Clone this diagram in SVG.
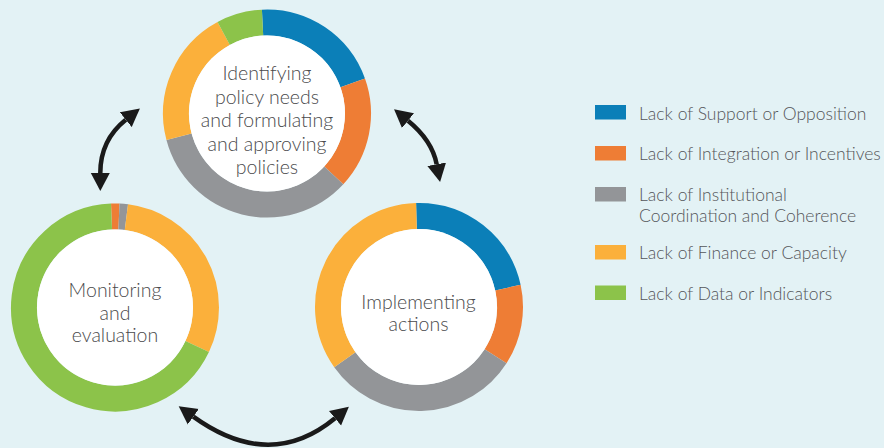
<svg xmlns="http://www.w3.org/2000/svg" width="884" height="448" viewBox="0 0 884 448">
  <defs>
    <style>
      .seg { fill: none; stroke-width: 26; }
      .blue { stroke: #0b7fb8; }
      .orange { stroke: #ee7d35; }
      .gray { stroke: #939598; }
      .yellow { stroke: #fbb03b; }
      .green { stroke: #8cc34a; }
      .hole { fill: #ffffff; }
      .label { font-family: Lato, "Liberation Sans", sans-serif; font-weight: 300; font-size: 19.5px; fill: #4a4a4c; text-anchor: middle; }
      .key { font-family: Lato, "Liberation Sans", sans-serif; font-weight: 300; font-size: 17.5px; fill: #55565a; }
      .link { fill: none; stroke: #1a1a1a; stroke-width: 4.5; }
    </style>
    <marker id="head" viewBox="0 -10 18 20" refX="0" refY="0" markerWidth="18" markerHeight="20" markerUnits="userSpaceOnUse" orient="auto-start-reverse">
      <path d="M0,-9.5 L18,0 L0,9.5 Z" fill="#1a1a1a"/>
    </marker>
  </defs>

  <rect x="0" y="0" width="884" height="448" fill="#e3f2f5"/>

  <!-- Stage 1: policy formulation -->
  <g id="node-identifying">
    <path class="seg blue" d="M262.56,22.61 A91,91 0 0 1 352.73,82.97"/>
    <path class="seg orange" d="M352.73,82.97 A91,91 0 0 1 333.77,175.33"/>
    <path class="seg gray" d="M333.77,175.33 A91,91 0 0 1 179.02,136.74"/>
    <path class="seg yellow" d="M179.02,136.74 A91,91 0 0 1 223.72,33.46"/>
    <path class="seg green" d="M223.72,33.46 A91,91 0 0 1 262.56,22.61"/>
    <circle class="hole" cx="267" cy="113.5" r="78"/>
    <text class="label" x="267" y="80">Identifying</text>
    <text class="label" x="267" y="103.5">policy needs</text>
    <text class="label" x="267" y="127">and formulating</text>
    <text class="label" x="267" y="150.5">and approving</text>
    <text class="label" x="267" y="174">policies</text>
  </g>

  <!-- Stage 2: implementation -->
  <g id="node-implementing">
    <path class="seg blue" d="M416.46,216.04 A91,91 0 0 1 507.91,287.62"/>
    <path class="seg orange" d="M507.91,287.62 A91,91 0 0 1 495.58,356.16"/>
    <path class="seg gray" d="M495.58,356.16 A91,91 0 0 1 344.83,359.72"/>
    <path class="seg yellow" d="M344.83,359.72 A91,91 0 0 1 416.46,216.04"/>
    <circle class="hole" cx="419" cy="307" r="78"/>
    <text class="label" x="418.5" y="308.5">Implementing</text>
    <text class="label" x="418.5" y="331">actions</text>
  </g>

  <!-- Stage 3: monitoring -->
  <g id="node-monitoring">
    <path class="seg orange" d="M111.51,216.56 A91,91 0 0 1 118.97,216.59"/>
    <path class="seg gray" d="M118.97,216.59 A91,91 0 0 1 126.40,217.22"/>
    <path class="seg yellow" d="M126.40,217.22 A91,91 0 0 1 197.20,346.53"/>
    <path class="seg green" d="M197.20,346.53 A91,91 0 1 1 111.51,216.56"/>
    <circle class="hole" cx="115" cy="307.5" r="78"/>
    <text class="label" x="115" y="297">Monitoring</text>
    <text class="label" x="115" y="320">and</text>
    <text class="label" x="115" y="342">evaluation</text>
  </g>

  <!-- Cycle connectors -->
  <g id="connectors">
    <path class="link" d="M100.3,173 Q100.3,140 125.8,119.7" marker-start="url(#head)" marker-end="url(#head)"/>
    <path class="link" d="M408,120.7 Q432.1,140.3 436.7,164.3" marker-start="url(#head)" marker-end="url(#head)"/>
    <path class="link" d="M193.3,416.7 Q270,472 335,418.3" marker-start="url(#head)" marker-end="url(#head)"/>
  </g>

  <!-- Legend -->
  <g id="legend">
    <rect x="595" y="105" width="31" height="14.5" fill="#0b7fb8"/>
    <text class="key" x="639" y="120">Lack of Support or Opposition</text>
    <rect x="595" y="146" width="31" height="14.5" fill="#ee7d35"/>
    <text class="key" x="639" y="160">Lack of Integration or Incentives</text>
    <rect x="595" y="187" width="31" height="14.5" fill="#939598"/>
    <text class="key" x="639" y="200.5">Lack of Institutional</text>
    <text class="key" x="639" y="222">Coordination and Coherence</text>
    <rect x="595" y="245" width="31" height="14.5" fill="#fbb03b"/>
    <text class="key" x="639" y="259">Lack of Finance or Capacity</text>
    <rect x="595" y="285.5" width="31" height="14.5" fill="#8cc34a"/>
    <text class="key" x="639" y="300">Lack of Data or Indicators</text>
  </g>
</svg>
